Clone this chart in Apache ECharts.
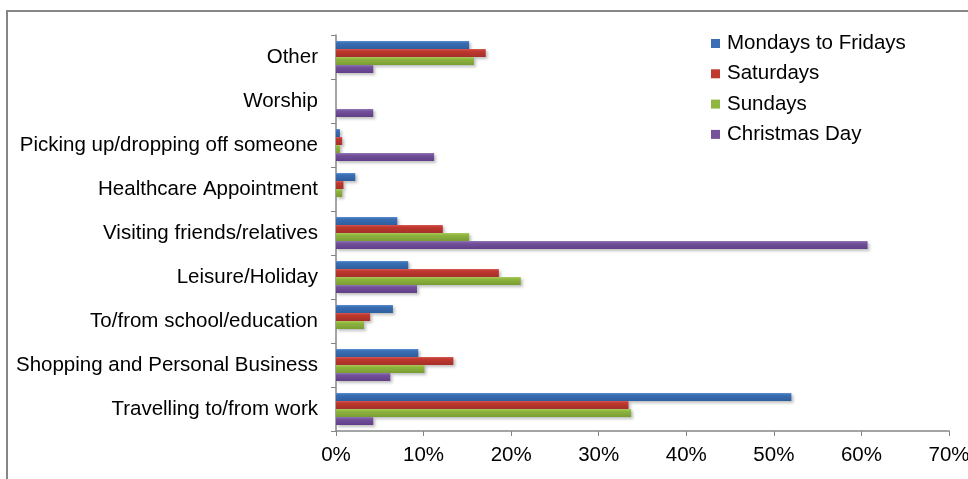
<!DOCTYPE html>
<html>
<head>
<meta charset="utf-8">
<script src="https://cdn.jsdelivr.net/npm/echarts@6/dist/echarts.min.js"></script>
<style>
  html, body { margin: 0; padding: 0; background: #fff; }
  #chart { width: 968px; height: 479px; }
</style>
</head>
<body>
<div id="chart"></div>
<script>
// categories listed top to bottom (y axis is inverted)
var categories = ['Other', 'Worship', 'Picking up/dropping off someone', 'Healthcare Appointment',
  'Visiting friends/relatives', 'Leisure/Holiday', 'To/from school/education',
  'Shopping and Personal Business', 'Travelling to/from work'];
var seriesNames = ['Mondays to Fridays', 'Saturdays', 'Sundays', 'Christmas Day'];

var weekdays  = [15.2, 0, 0.45, 2.2, 7.0, 8.25, 6.5, 9.4, 52.0];
var saturdays = [17.1, 0, 0.7, 0.85, 12.2, 18.6, 3.9, 13.4, 33.4];
var sundays   = [15.75, 0, 0.45, 0.7, 15.2, 21.1, 3.2, 10.1, 33.7];
var christmas = [4.25, 4.25, 11.2, 0, 60.7, 9.25, 0, 6.2, 4.25];

var xTicks = { min: 0, max: 70, interval: 10 };

// light top edge, darker bottom, like the office bar style
var palette = [
  ['#5b8fd0', '#3a6db3', '#2f5e9e'],
  ['#d65a55', '#c0392f', '#a52f29'],
  ['#a8cc60', '#8fb63e', '#7a9c34'],
  ['#9477b8', '#74529c', '#613f87']
];

function barColor(c) {
  return new echarts.graphic.LinearGradient(0, 0, 0, 1, [
    { offset: 0, color: c[0] },
    { offset: 0.25, color: c[1] },
    { offset: 1, color: c[2] }
  ]);
}

var allData = [weekdays, saturdays, sundays, christmas];

var series = seriesNames.map(function (name, i) {
  return {
    name: name,
    type: 'bar',
    barWidth: 8,
    barGap: '0%',
    data: allData[i],
    itemStyle: {
      color: barColor(palette[i]),
      shadowColor: 'rgba(0,0,0,0.25)',
      shadowBlur: 3,
      shadowOffsetX: 2,
      shadowOffsetY: 2
    }
  };
});

var fs = 20.5;

var myChart = echarts.init(document.getElementById('chart'));
myChart.setOption({
  backgroundColor: '#fff',
  animation: false,
  textStyle: { fontFamily: '"Liberation Sans", Arial, sans-serif' },
  graphic: [{
    type: 'rect',
    z: -10,
    shape: { x: 7, y: 11, width: 1000, height: 500 },
    style: { fill: 'none', stroke: '#868686', lineWidth: 2 }
  }],
  legend: {
    data: seriesNames.map(function (n, i) {
      return { name: n, itemStyle: { color: palette[i][1] } };
    }),
    orient: 'vertical',
    left: 706,
    top: 28,
    itemWidth: 9,
    itemHeight: 9,
    itemGap: 9.3,
    icon: 'rect',
    textStyle: { fontSize: fs, color: '#000', padding: [0, 0, 0, 2] }
  },
  grid: { left: 336, right: 19, top: 35, bottom: 48, containLabel: false, outerBoundsMode: 'none' },
  xAxis: {
    type: 'value',
    min: xTicks.min,
    max: xTicks.max,
    interval: xTicks.interval,
    splitLine: { show: false },
    axisLine: { show: true, lineStyle: { color: '#868686', width: 1.5 } },
    axisTick: { show: true, length: 5, lineStyle: { color: '#868686' } },
    axisLabel: { formatter: '{value}%', fontSize: fs, color: '#000', margin: 14 }
  },
  yAxis: {
    type: 'category',
    inverse: true,
    data: categories,
    axisLine: { show: true, lineStyle: { color: '#868686', width: 1.5 } },
    axisTick: { show: true, length: 5, lineStyle: { color: '#868686' } },
    axisLabel: { fontSize: fs, color: '#000', margin: 18 }
  },
  series: series
});
</script>
</body>
</html>
